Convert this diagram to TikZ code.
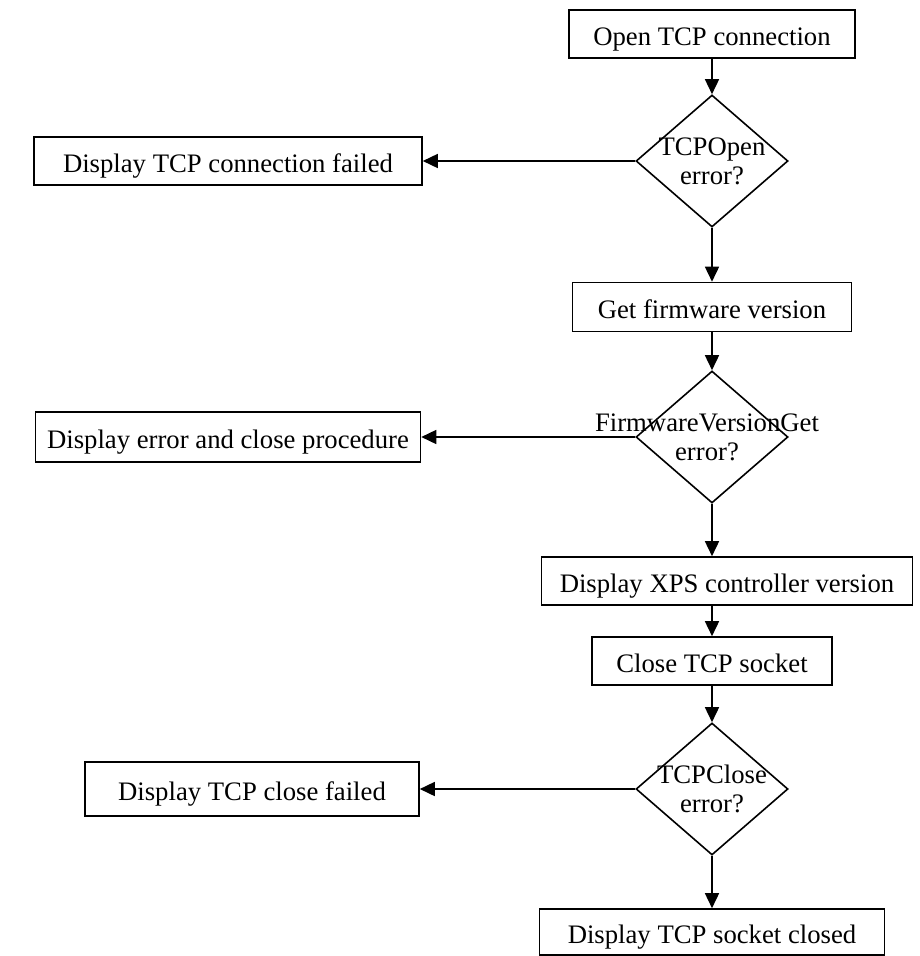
\documentclass[tikz,border=0pt]{standalone}
\usepackage{fontspec}
\setmainfont{Liberation Serif}
\usetikzlibrary{shapes, arrows.meta, positioning}

\begin{document}
\begin{tikzpicture}[x=1pt, y=-1pt, line width=1.6pt, >={Triangle[length=15pt, width=14pt]},
  box/.style={rectangle, draw, inner sep=0pt, text height=22pt, text depth=0pt, align=center, font=\fontsize{26.7}{30}\selectfont},
  decision/.style={diamond, draw, inner sep=0pt, minimum width=152pt, minimum height=132pt},
  question/.style={align=center, font=\fontsize{26.7}{29}\selectfont}]

\useasboundingbox (0,0) rectangle (920,956);

\node[box, minimum width=286pt, minimum height=48pt] (open) at (712,34) {Open TCP connection};
\node[decision] (tcpopen) at (712,161) {};
\node[question] (tcpopentxt) at (tcpopen) {TCPOpen\\error?};
\node[box, minimum width=388pt, minimum height=48pt] (openfail) at (228,161) {Display TCP connection failed};

\node[box, minimum width=279pt, minimum height=49pt] (getfw) at (712,307) {Get firmware version};
\node[decision] (fwget) at (712,437) {};
\node[question, xshift=-5pt] (fwgettxt) at (fwget) {FirmwareVersionGet\\error?};
\node[box, minimum width=385pt, minimum height=50pt] (fwfail) at (228,437) {Display error and close procedure};

\node[box, minimum width=371pt, minimum height=48pt] (xpsver) at (727,581) {Display XPS controller version};
\node[box, minimum width=240pt, minimum height=48pt] (close) at (712,661) {Close TCP socket};
\node[decision] (tcpclose) at (712,789) {};
\node[question] (tcpclosetxt) at (tcpclose) {TCPClose\\error?};
\node[box, minimum width=334pt, minimum height=54pt] (closefail) at (252,789) {Display TCP close failed};
\node[box, minimum width=345pt, minimum height=46pt] (closed) at (712,932) {Display TCP socket closed};

\draw[->] (open) -- (tcpopen);
\draw[->] (tcpopen) -- (openfail);
\draw[->] (tcpopen) -- (getfw);
\draw[->] (getfw) -- (fwget);
\draw[->] (fwget) -- (fwfail);
\draw[->] (fwget) -- (fwget |- xpsver.north);
\draw[->] (xpsver.south -| close) -- (close);
\draw[->] (close) -- (tcpclose);
\draw[->] (tcpclose) -- (closefail);
\draw[->] (tcpclose) -- (closed);

\end{tikzpicture}
\end{document}
